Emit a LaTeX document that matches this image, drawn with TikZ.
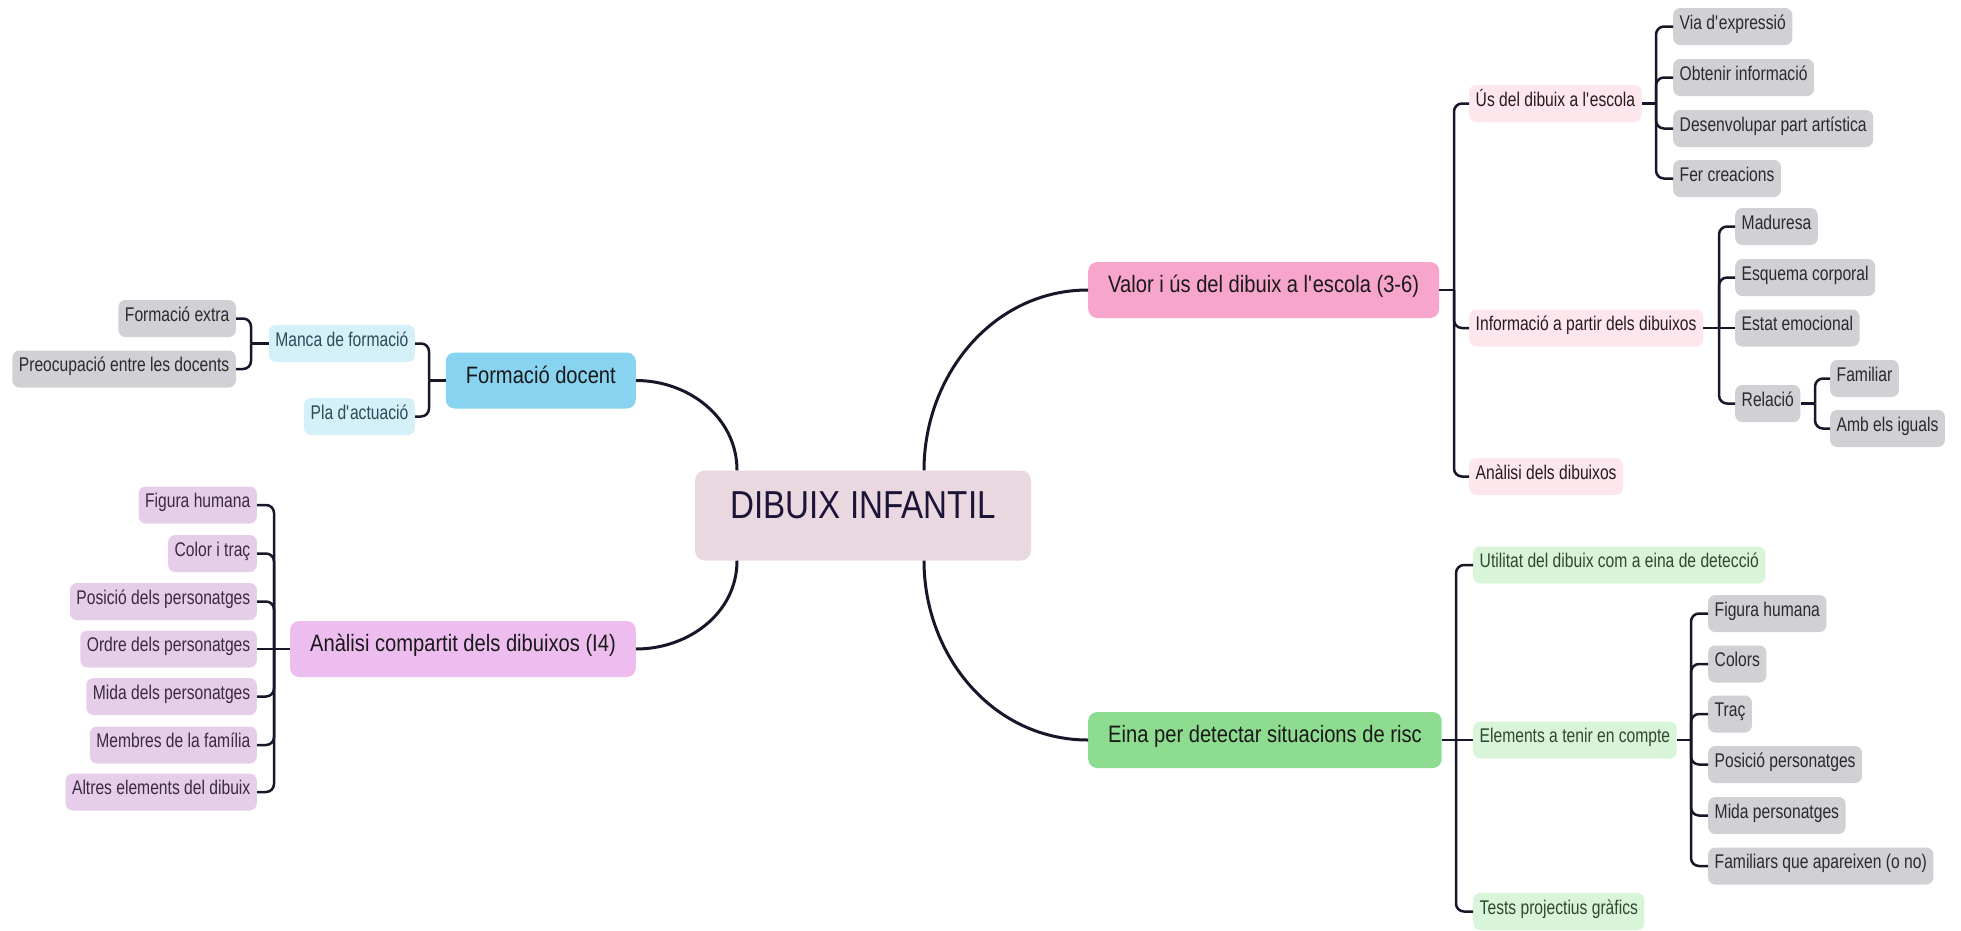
\documentclass[tikz,border=0pt]{standalone}
\usepackage{fontspec}
\setmainfont{Liberation Sans}[FakeStretch=0.85]
\newfontfamily\narrowfont{Liberation Sans}[FakeStretch=0.79]
\newcommand\fsS{\narrowfont\fontsize{19.8}{21}\selectfont}
\newcommand\fsM{\fontsize{23.7}{26}\selectfont}
\newcommand\fsL{\fontsize{39}{42}\selectfont}
\newcommand\ap{\textquotesingle}
\definecolor{linecol}{HTML}{18172A}
\definecolor{centralfill}{HTML}{EAD8E0}
\definecolor{centraltext}{HTML}{1B1436}
\definecolor{valfill}{HTML}{F8A5CB}
\definecolor{valsub}{HTML}{FDE7ED}
\definecolor{valtext}{HTML}{2A1A22}
\definecolor{einafill}{HTML}{8EDC90}
\definecolor{einasub}{HTML}{D9F5D9}
\definecolor{einatext}{HTML}{2D4A30}
\definecolor{fdfill}{HTML}{88D4F0}
\definecolor{fdsub}{HTML}{D4F0F8}
\definecolor{fdtext}{HTML}{2F4A5A}
\definecolor{acfill}{HTML}{EDBDF0}
\definecolor{acsub}{HTML}{E6CEEA}
\definecolor{actext}{HTML}{3A2A40}
\definecolor{leafgray}{HTML}{D0D0D5}
\definecolor{leaftext}{HTML}{2B2B2B}
\tikzset{
  boxbase/.style={rounded corners=7pt, inner ysep=0pt, text height=0.73em, text depth=0.21em},
  small/.style={boxbase, font=\fsS, minimum height=37pt, inner xsep=6.5pt},
  leaf/.style={small, fill=leafgray, text=leaftext},
  lone/.style={boxbase, font=\fsM, minimum height=56pt, inner xsep=20pt, rounded corners=9pt, text=black!90},
  central/.style={boxbase, font=\fsL, minimum height=90pt, minimum width=336pt, rounded corners=10pt, fill=centralfill, text=centraltext},
  mainline/.style={draw=linecol, line width=3pt},
  br/.style={draw=linecol, line width=2.5pt, rounded corners=8pt},
}
\begin{document}
\begin{tikzpicture}[x=1pt,y=-1pt]
\useasboundingbox (0,0) rectangle (1961,930);
\fill[white] (0,0) rectangle (1961,930);

% central
\node[central] (c) at (863,515.5) {DIBUIX INFANTIL};

% level 1
\node[lone, fill=valfill, anchor=west] (val) at (1088,290) {Valor i ús del dibuix a l\ap escola (3-6)};
\node[lone, fill=einafill, anchor=west] (eina) at (1088,740) {Eina per detectar situacions de risc};
\node[lone, fill=fdfill, anchor=east] (fd) at (636,380.5) {Formació docent};
\node[lone, fill=acfill, anchor=east] (ac) at (636,649) {Anàlisi compartit dels dibuixos (I4)};

% main curves
\coordinate (ctl) at ([xshift=-126pt]c.north);
\coordinate (ctr) at ([xshift=61pt]c.north);
\coordinate (cbl) at ([xshift=-126pt]c.south);
\coordinate (cbr) at ([xshift=61pt]c.south);
\draw[mainline] (ctr) to[out=90,in=180] (val.west);
\draw[mainline] (cbr) to[out=-90,in=180] (eina.west);
\draw[mainline] (ctl) to[out=90,in=0] (fd.east);
\draw[mainline] (cbl) to[out=-90,in=0] (ac.east);

% ---- Valor branch
\node[small, fill=valsub, text=valtext, anchor=west] (us) at (1469,103.5) {Ús del dibuix a l\ap escola};
\node[small, fill=valsub, text=valtext, anchor=west] (info) at (1469,328) {Informació a partir dels dibuixos};
\node[small, fill=valsub, text=valtext, anchor=west] (adib) at (1469,476.5) {Anàlisi dels dibuixos};
\coordinate (jval) at (1454,290);
\draw[br] (val.east) -- (jval);
\foreach \n in {us,info,adib} \draw[br] (jval) |- (\n.west);

\node[leaf, anchor=west] (via) at (1673,26.5) {Via d\ap expressió};
\node[leaf, anchor=west] (obt) at (1673,77.5) {Obtenir informació};
\node[leaf, anchor=west] (des) at (1673,128.5) {Desenvolupar part artística};
\node[leaf, anchor=west] (fer) at (1673,178.5) {Fer creacions};
\coordinate (jus) at (1656,103.5);
\draw[br] (us.east) -- (jus);
\foreach \n in {via,obt,des,fer} \draw[br] (jus) |- (\n.west);

\node[leaf, anchor=west] (mad) at (1735,226.5) {Maduresa};
\node[leaf, anchor=west] (esq) at (1735,277.5) {Esquema corporal};
\node[leaf, anchor=west] (est) at (1735,328) {Estat emocional};
\node[leaf, anchor=west] (rel) at (1735,403.5) {Relació};
\coordinate (jinfo) at (1719,328);
\draw[br] (info.east) -- (est.west);
\foreach \n in {mad,esq,rel} \draw[br] (jinfo) |- (\n.west);

\node[leaf, anchor=west] (fam) at (1830,378.5) {Familiar};
\node[leaf, anchor=west] (amb) at (1830,428.5) {Amb els iguals};
\coordinate (jrel) at (1815,403.5);
\draw[br] (rel.east) -- (jrel);
\foreach \n in {fam,amb} \draw[br] (jrel) |- (\n.west);

% ---- Eina branch
\node[small, fill=einasub, text=einatext, anchor=west] (util) at (1473,565) {Utilitat del dibuix com a eina de detecció};
\node[small, fill=einasub, text=einatext, anchor=west] (elem) at (1473,740) {Elements a tenir en compte};
\node[small, fill=einasub, text=einatext, anchor=west] (tests) at (1473,911.5) {Tests projectius gràfics};
\coordinate (jeina) at (1456,740);
\draw[br] (eina.east) -- (elem.west);
\foreach \n in {util,tests} \draw[br] (jeina) |- (\n.west);

\node[leaf, anchor=west] (e1) at (1708,613.5) {Figura humana};
\node[leaf, anchor=west] (e2) at (1708,664) {Colors};
\node[leaf, anchor=west] (e3) at (1708,714) {Traç};
\node[leaf, anchor=west] (e4) at (1708,764.5) {Posició personatges};
\node[leaf, anchor=west] (e5) at (1708,815.5) {Mida personatges};
\node[leaf, anchor=west] (e6) at (1708,866) {Familiars que apareixen (o no)};
\coordinate (jel) at (1691,740);
\draw[br] (elem.east) -- (jel);
\foreach \n in {e1,e2,e3,e4,e5,e6} \draw[br] (jel) |- (\n.west);

% ---- Formació docent branch
\node[small, fill=fdsub, text=fdtext, anchor=east] (manca) at (415,343.5) {Manca de formació};
\node[small, fill=fdsub, text=fdtext, anchor=east] (pla) at (415,416.5) {Pla d\ap actuació};
\coordinate (jfd) at (429,380.5);
\draw[br] (fd.west) -- (jfd);
\foreach \n in {manca,pla} \draw[br] (jfd) |- (\n.east);

\node[leaf, anchor=east] (fext) at (236,318.5) {Formació extra};
\node[leaf, anchor=east] (preo) at (236,369) {Preocupació entre les docents};
\coordinate (jmanca) at (251,343.5);
\draw[br] (manca.west) -- (jmanca);
\foreach \n in {fext,preo} \draw[br] (jmanca) |- (\n.east);

% ---- Anàlisi compartit branch
\node[small, fill=acsub, text=actext, anchor=east] (a1) at (257,505) {Figura humana};
\node[small, fill=acsub, text=actext, anchor=east] (a2) at (257,553.5) {Color i traç};
\node[small, fill=acsub, text=actext, anchor=east] (a3) at (257,601.5) {Posició dels personatges};
\node[small, fill=acsub, text=actext, anchor=east] (a4) at (257,649) {Ordre dels personatges};
\node[small, fill=acsub, text=actext, anchor=east] (a5) at (257,696.5) {Mida dels personatges};
\node[small, fill=acsub, text=actext, anchor=east] (a6) at (257,745) {Membres de la família};
\node[small, fill=acsub, text=actext, anchor=east] (a7) at (257,792) {Altres elements del dibuix};
\coordinate (jac) at (274,649);
\draw[br] (ac.west) -- (a4.east);
\foreach \n in {a1,a2,a3,a5,a6,a7} \draw[br] (jac) |- (\n.east);
\end{tikzpicture}
\end{document}
